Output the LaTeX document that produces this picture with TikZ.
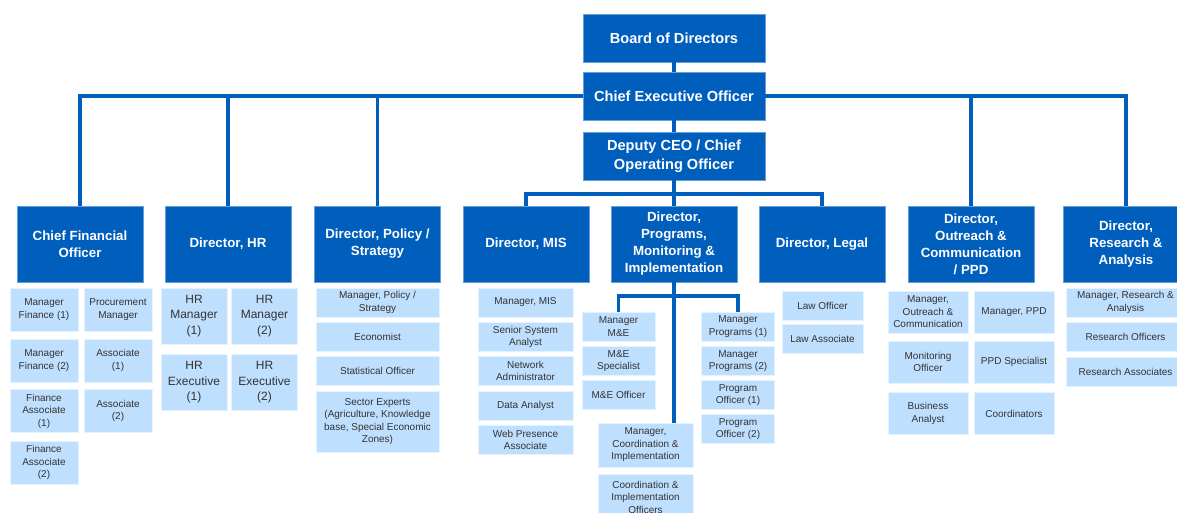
\documentclass[tikz,border=0pt]{standalone}
\usepackage{fontspec}
\setmainfont{Liberation Sans}
\definecolor{orgblue}{HTML}{005EBC}
\definecolor{orglight}{HTML}{BFDFFF}
\definecolor{orgtext}{HTML}{333333}

\begin{document}
\begin{tikzpicture}[x=1pt,y=-1pt,
  dirbox/.style={fill=orgblue,draw=orgblue!60!white,line width=0.8pt,text=white,
    font=\fontsize{13.3}{17}\selectfont\bfseries,align=center,inner sep=0pt,
    minimum width=126pt,minimum height=76pt},
  topbox/.style={dirbox,font=\fontsize{14.6}{19}\selectfont\bfseries,
    minimum width=182pt,minimum height=48pt},
  subbox/.style={fill=orglight,draw=orglight!40!white,line width=0.8pt,text=orgtext,
    font=\fontsize{10}{12.5}\selectfont,align=center,inner sep=0pt},
  link/.style={orgblue,line width=3.2pt}]

  \useasboundingbox (0,0) rectangle (1177,513);
  \clip (0,0) rectangle (1177,513);

  % top of the chart
  \node[topbox] (board) at (674,38) {Board of Directors};
  \node[topbox] (ceo) at (674,96) {Chief Executive Officer};
  \node[topbox] (dep) at (674,156) {Deputy CEO / Chief\\Operating Officer};

  % directors
  \node[dirbox] (cfo) at (80,244) {Chief Financial\\Officer};
  \node[dirbox] (hr) at (228,244) {Director, HR};
  \node[dirbox] (pol) at (377.5,244) {Director, Policy /\\Strategy};
  \node[dirbox] (mis) at (526,244) {Director, MIS};
  \node[dirbox] (prog) at (674,244) {Director,\\Programs,\\Monitoring \&\\Implementation};
  \node[dirbox] (legal) at (822,244) {Director, Legal};
  \node[dirbox] (outr) at (971,244) {Director,\\Outreach \&\\Communication\\/ PPD};
  \node[dirbox] (res) at (1126,244) {Director,\\Research \&\\Analysis};

  % finance team
  \begin{scope}[every node/.style={subbox,minimum width=68pt,minimum height=43pt}]
    \node (fm1) at (44,309.5) {Manager\\Finance (1)};
    \node (proc) at (118,309.5) {Procurement\\Manager};
    \node (fm2) at (44,360.5) {Manager\\Finance (2)};
    \node (as1) at (118,360.5) {Associate\\(1)};
    \node (fa1) at (44,411) {Finance\\Associate\\(1)};
    \node (as2) at (118,411) {Associate\\(2)};
    \node (fa2) at (44,462.5) {Finance\\Associate\\(2)};
  \end{scope}

  % HR team
  \begin{scope}[every node/.style={subbox,font=\fontsize{12}{15.5}\selectfont,minimum width=66pt,minimum height=56pt}]
    \node (hrm1) at (194,316) {HR\\Manager\\(1)};
    \node (hrm2) at (264.5,316) {HR\\Manager\\(2)};
    \node (hre1) at (194,382.5) {HR\\Executive\\(1)};
    \node (hre2) at (264.5,382.5) {HR\\Executive\\(2)};
  \end{scope}

  % policy team
  \begin{scope}[every node/.style={subbox,minimum width=123pt,minimum height=29pt}]
    \node (mpol) at (377.5,302.5) {Manager,\ Policy /\\Strategy};
    \node (econ) at (377.5,337) {Economist};
    \node (stat) at (377.5,371) {Statistical Officer};
    \node[minimum height=61pt] (sect) at (377.5,421.5) {Sector Experts\\(Agriculture, Knowledge\\base, Special Economic\\Zones)};
  \end{scope}

  % MIS team
  \begin{scope}[every node/.style={subbox,minimum width=95pt,minimum height=29pt}]
    \node (mmis) at (525.5,302.5) {Manager,\ MIS};
    \node (ssa) at (525.5,337) {Senior System\\Analyst};
    \node (neta) at (525.5,371) {Network\\Administrator};
    \node (data) at (525.5,406) {Data Analyst};
    \node (web) at (525.5,440) {Web Presence\\Associate};
  \end{scope}

  % programs team
  \begin{scope}[every node/.style={subbox,minimum width=73pt,minimum height=29pt}]
    \node (mme) at (618.5,326.5) {Manager\\M\&E};
    \node (mes) at (618.5,361) {M\&E\\Specialist};
    \node (meo) at (618.5,395) {M\&E\ Officer};
    \node (mp1) at (738,326.5) {Manager\\Programs (1)};
    \node (mp2) at (738,361) {Manager\\Programs (2)};
    \node (po1) at (738,395) {Program\\Officer (1)};
    \node (po2) at (738,429) {Program\\Officer (2)};
    \node[minimum width=95pt,minimum height=44pt] (mci) at (645.5,445) {Manager,\\Coordination \&\\Implementation};
    \node[minimum width=95pt,minimum height=46pt] (cio) at (645.5,497) {Coordination \&\\Implementation\\Officers};
  \end{scope}

  % legal team
  \begin{scope}[every node/.style={subbox,minimum width=81pt,minimum height=29pt}]
    \node (lawo) at (822.5,305.5) {Law Officer};
    \node (lawa) at (822.5,339) {Law\ Associate};
  \end{scope}

  % outreach team
  \begin{scope}[every node/.style={subbox,minimum width=80pt,minimum height=42pt}]
    \node (mout) at (928,312) {Manager,\\Outreach \&\\Communication};
    \node (mppd) at (1014,312) {Manager,\ PPD};
    \node (moni) at (928,362) {Monitoring\\Officer};
    \node (ppds) at (1014,362) {PPD Specialist};
    \node (busa) at (928,413.5) {Business\\Analyst};
    \node (coord) at (1014,413.5) {Coordinators};
  \end{scope}

  % research team
  \begin{scope}[every node/.style={subbox,minimum width=119pt,minimum height=29pt}]
    \node (mres) at (1125.5,302.5) {Manager,\ Research \&\\Analysis};
    \node (reso) at (1125.5,337) {Research Officers};
    \node (resa) at (1125.5,371.5) {Research Associates};
  \end{scope}

  % reporting lines
  \draw[link] (board) -- (ceo);
  \draw[link] (ceo) -- (dep);
  \draw[link] (cfo.north) |- (ceo.west);
  \draw[link] (hr.north) |- (ceo.west);
  \draw[link] (pol.north) |- (ceo.west);
  \draw[link] (outr.north) |- (ceo.east);
  \draw[link] (res.north) |- (ceo.east);

  \coordinate (depbus) at (674,194);
  \draw[link] (dep) -- (prog);
  \draw[link] (mis.north) |- (depbus);
  \draw[link] (legal.north) |- (depbus);

  \coordinate (progbus) at (674,296);
  \draw[link] (prog.south) -- (prog.south |- mci.north);
  \draw[link] (mme.north) |- (progbus);
  \draw[link] (mp1.north) |- (progbus);

\end{tikzpicture}
\end{document}
